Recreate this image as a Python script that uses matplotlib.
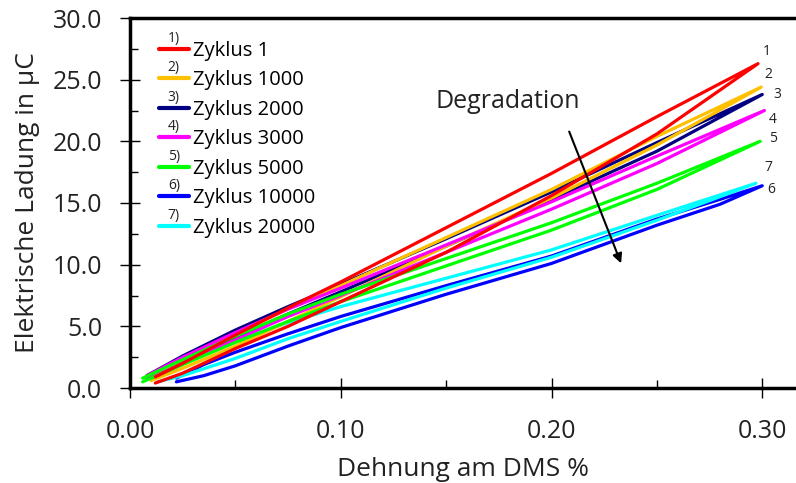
import numpy as np
import matplotlib
matplotlib.use("Agg")
import matplotlib.pyplot as plt
from matplotlib.ticker import MultipleLocator, FormatStrFormatter

plt.rcParams['font.family'] = ['Open Sans', 'DejaVu Sans']

# hysteresis loops: x grid, upper and lower branch
labels = ['Zyklus 1', 'Zyklus 1000', 'Zyklus 2000', 'Zyklus 3000',
          'Zyklus 5000', 'Zyklus 10000', 'Zyklus 20000']
colors = ['#ff0000', '#ffc000', '#000080', '#ff00ff', '#00ff00', '#0000ff', '#00ffff']
end_nums = ['1', '2', '3', '4', '5', '6', '7']
end_pos = [(0.302, 27.3), (0.303, 25.4), (0.307, 23.8), (0.305, 21.8),
           (0.305, 20.2), (0.304, 16.1), (0.303, 17.9)]
draw_order = [7, 4, 3, 5, 6, 1, 2]

x_red = [0.012, 0.025, 0.05, 0.075, 0.10, 0.15, 0.20, 0.25, 0.298]
up_red = [0.9, 2.0, 4.3, 6.5, 8.6, 13.0, 17.4, 22.0, 26.3]
lo_red = [0.4, 1.2, 3.2, 5.0, 7.0, 11.0, 15.6, 20.6, 26.3]

x_or = [0.010, 0.025, 0.05, 0.075, 0.10, 0.15, 0.20, 0.25, 0.2995]
up_or = [0.9, 2.3, 4.4, 6.4, 8.3, 12.2, 16.1, 20.4, 24.4]
lo_or = [0.6, 1.6, 3.4, 5.4, 7.4, 11.5, 15.4, 19.7, 24.4]

x_nv = [0.008, 0.025, 0.05, 0.075, 0.10, 0.15, 0.20, 0.25, 0.300]
up_nv = [1.0, 2.6, 4.7, 6.6, 8.4, 12.1, 15.9, 19.9, 23.8]
lo_nv = [0.8, 2.2, 4.1, 6.0, 7.8, 11.5, 15.3, 19.2, 23.8]

x_mg = [0.008, 0.025, 0.05, 0.075, 0.10, 0.15, 0.20, 0.25, 0.301]
up_mg = [1.0, 2.5, 4.5, 6.4, 8.1, 11.6, 15.1, 18.8, 22.5]
lo_mg = [0.7, 2.0, 3.9, 5.8, 7.5, 11.0, 14.5, 18.2, 22.5]

x_gr = [0.006, 0.025, 0.05, 0.075, 0.10, 0.15, 0.20, 0.25, 0.299]
up_gr = [0.8, 2.3, 4.2, 6.0, 7.6, 10.5, 13.4, 16.6, 20.0]
lo_gr = [0.5, 1.9, 3.7, 5.4, 7.0, 9.9, 12.8, 16.1, 20.0]

x_bl = [0.022, 0.035, 0.05, 0.075, 0.10, 0.15, 0.20, 0.25, 0.28, 0.300]
up_bl = [0.8, 1.9, 2.9, 4.4, 5.8, 8.3, 10.7, 13.7, 15.3, 16.4]
lo_bl = [0.5, 1.0, 1.8, 3.4, 4.9, 7.6, 10.1, 13.2, 14.9, 16.4]

x_cy = [0.013, 0.025, 0.05, 0.075, 0.10, 0.15, 0.20, 0.25, 0.297]
up_cy = [1.0, 2.0, 3.8, 5.3, 6.6, 8.9, 11.2, 14.0, 16.6]
lo_cy = [0.5, 1.0, 2.4, 4.0, 5.4, 8.1, 10.6, 13.6, 16.6]

xs = [x_red, x_or, x_nv, x_mg, x_gr, x_bl, x_cy]
ups = [up_red, up_or, up_nv, up_mg, up_gr, up_bl, up_cy]
los = [lo_red, lo_or, lo_nv, lo_mg, lo_gr, lo_bl, lo_cy]

fig = plt.figure(figsize=(7.96, 4.83), dpi=100)
ax = fig.add_axes([130/796, 1-388/483, 1-130/796, 370/483])

for x, u, l, c, lab, z in zip(xs, ups, los, colors, labels, draw_order):
    loop_x = list(x) + list(x[::-1])
    loop_y = list(l) + list(u[::-1])
    ax.plot(loop_x, loop_y, color=c, lw=2.3, label=lab, zorder=2 + z * 0.1,
            solid_joinstyle='round', solid_capstyle='round')

# numbers at the loop tips
for (px, py), n in zip(end_pos, end_nums):
    ax.text(px, py, n, fontsize=10, color='#222222', va='center', ha='center')

ax.annotate('', xy=(0.2335, 9.9), xytext=(0.2079, 21.0),
            arrowprops=dict(arrowstyle='-|>', color='black', lw=1.5, mutation_scale=14))
ax.text(0.179, 23.2, 'Degradation', fontsize=18, ha='center', va='center', color='#222222')

ax.set_xlim(0, 0.316)
ax.set_ylim(0, 30)
ax.xaxis.set_major_locator(MultipleLocator(0.1))
ax.xaxis.set_minor_locator(MultipleLocator(0.05))
ax.yaxis.set_major_locator(MultipleLocator(5))
ax.yaxis.set_minor_locator(MultipleLocator(2.5))
ax.xaxis.set_major_formatter(FormatStrFormatter('%.2f'))
ax.yaxis.set_major_formatter(FormatStrFormatter('%.1f'))
ax.tick_params(axis='x', which='major', direction='inout', length=14, width=1, pad=15,
               labelsize=18, labelcolor='#222222')
ax.tick_params(axis='x', which='minor', direction='in', length=6, width=1)
ax.tick_params(axis='y', which='major', direction='inout', length=14, width=1, pad=13,
               labelsize=18, labelcolor='#222222')
ax.tick_params(axis='y', which='minor', direction='in', length=6, width=1)
for s in ['left', 'bottom', 'top']:
    ax.spines[s].set_linewidth(2.5)
ax.spines['right'].set_visible(False)

ax.set_xlabel('Dehnung am DMS %', fontsize=19, color='#222222', labelpad=10)
ax.set_ylabel('Elektrische Ladung in µC', fontsize=19, color='#222222', labelpad=9)

leg = ax.legend(loc='upper left', bbox_to_anchor=(0.031, 0.96), frameon=False, fontsize=14.5,
                handlelength=1.5, handletextpad=0.2, labelspacing=0.47, borderaxespad=0)
for line in leg.get_lines():
    line.set_linewidth(3)

fig.canvas.draw()
# small numbers above each legend line
for i, line in enumerate(leg.get_lines()):
    bb = line.get_window_extent(fig.canvas.get_renderer())
    xc = (bb.x0 + bb.x1) / 2
    yc = (bb.y0 + bb.y1) / 2
    fig.text(xc / fig.bbox.width, (yc + 3) / fig.bbox.height, f'{i+1})', fontsize=10,
             ha='center', va='bottom', color='#222222')

fig.savefig('out.png', dpi=100)
